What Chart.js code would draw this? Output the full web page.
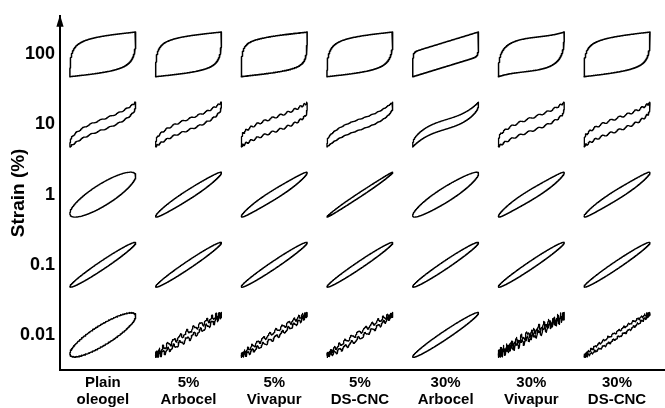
<!DOCTYPE html>
<html>
<head>
<meta charset="utf-8">
<script src="https://cdn.jsdelivr.net/npm/chart.js@4/dist/chart.umd.min.js"></script>
<style>
  html, body { margin: 0; padding: 0; background: #fff; }
  canvas { display: block; }
</style>
</head>
<body>
<canvas id="lissajous" width="665" height="408"></canvas>
<script>
// Samples (columns) and strain amplitudes (rows, bottom to top)
const samples = [
  ["Plain", "oleogel"], ["5%", "Arbocel"], ["5%", "Vivapur"], ["5%", "DS-CNC"],
  ["30%", "Arbocel"], ["30%", "Vivapur"], ["30%", "DS-CNC"]
];
const strainLevels = ["0.01", "0.1", "1", "10", "100"];

// Loop descriptors, one row per strain level (0.01 -> 100), one entry per sample.
// fast / slow yielding share of the stress response
const yieldFast = [
  [0, 0, 0, 0, 0, 0, 0],
  [0, 0, 0, 0, 0, 0, 0],
  [0, 0, 0, 0, 0, 0, 0],
  [0.16, 0.16, 0.25, 0.18, 0.12, 0.22, 0.20],
  [0.46, 0.50, 0.55, 0.46, 0.55, 0.40, 0.47]
];
// how sharply the fast yielding sets in after strain reversal
const yieldRate = [
  [25, 25, 25, 25, 25, 25, 25],
  [25, 25, 25, 25, 25, 25, 25],
  [25, 25, 25, 25, 25, 25, 25],
  [20, 20, 25, 20, 20, 25, 25],
  [12, 13, 16, 12, 28, 11, 13]
];
const yieldSlow = [
  [0, 0, 0, 0, 0, 0, 0],
  [0, 0, 0, 0, 0, 0, 0],
  [0, 0, 0, 0, 0, 0, 0],
  [0.10, 0.12, 0.10, 0.08, 0.12, 0.10, 0.12],
  [0.46, 0.42, 0.35, 0.46, 0.00, 0.45, 0.43]
];
// out-of-phase (viscous) opening of the loop
const loopWidth = [
  [0.60, 0.17, 0.15, 0.15, 0.22, 0.13, 0.15],
  [0.22, 0.20, 0.20, 0.19, 0.21, 0.20, 0.20],
  [0.65, 0.24, 0.24, 0.11, 0.40, 0.26, 0.24],
  [0, 0, 0, 0, 0, 0, 0],
  [0, 0, 0, 0, 0, 0, 0]
];
// strain stiffening (S-shaped loops)
const stiffening = [
  [0, 0, 0, 0, 0, 0, 0],
  [0, 0, 0, 0, 0, 0, 0],
  [0, 0.05, 0.08, 0.03, 0.05, 0.10, 0.08],
  [0.23, 0.20, 0.15, 0.25, 0.35, 0.18, 0.18],
  [0, 0, 0, 0, 0, 0.12, 0]
];
// signal ripple on the stress trace
const rippleAmp = [
  [0.015, 0.11, 0.09, 0.09, 0, 0.13, 0.045],
  [0, 0, 0, 0, 0, 0, 0],
  [0, 0, 0, 0, 0, 0, 0],
  [0.025, 0.035, 0.05, 0.012, 0, 0.04, 0.05],
  [0, 0, 0.006, 0, 0, 0, 0]
];
const rippleCycles = [
  [80, 30, 32, 30, 0, 36, 40],
  [0, 0, 0, 0, 0, 0, 0],
  [0, 0, 0, 0, 0, 0, 0],
  [22, 24, 26, 30, 0, 22, 24],
  [0, 0, 90, 0, 0, 0, 0]
];
const noiseAmp = [
  [0.01, 0.05, 0.03, 0.03, 0, 0.09, 0.025],
  [0, 0, 0, 0, 0, 0, 0],
  [0, 0, 0, 0, 0, 0, 0],
  [0, 0, 0, 0, 0, 0, 0],
  [0, 0, 0, 0, 0, 0, 0]
];
const noiseCycles = [
  [130, 67, 71, 65, 0, 81, 89],
  [0, 0, 0, 0, 0, 0, 0],
  [0, 0, 0, 0, 0, 0, 0],
  [0, 0, 0, 0, 0, 0, 0],
  [0, 0, 0, 0, 0, 0, 0]
];

const SLOW_RATE = 4, STEPS = 360;
const HALF_W = 0.385, HALF_H = 0.32;   // loop half-size in axis units

function relax(u, k) {
  return (1 - Math.exp(-k * u)) / (1 - Math.exp(-k));
}

// One closed stress-strain loop: upper branch, then its point reflection
function loopPoints(r, c) {
  const w1 = yieldFast[r][c], w2 = yieldSlow[r][c], lin = 1 - w1 - w2;
  const v = loopWidth[r][c], s = stiffening[r][c], k1 = yieldRate[r][c];
  const upper = [];
  for (let i = 0; i <= STEPS; i++) {
    const u = i / STEPS;
    const x = -Math.cos(Math.PI * u);
    const y = w1 * (2 * relax(u, k1) - 1)
            + w2 * (2 * relax(u, SLOW_RATE) - 1)
            + lin * x
            + v * Math.sin(Math.PI * u)
            + s * (x * x * x - x)
            + rippleAmp[r][c] * Math.sin(rippleCycles[r][c] * Math.PI * u)
            + noiseAmp[r][c] * Math.sin(noiseCycles[r][c] * Math.PI * u);
    upper.push([x, y]);
  }
  const pts = upper.concat(upper.map(([x, y]) => [-x, -y]));
  const m = Math.max(...pts.map(p => Math.abs(p[1])));
  return pts.map(([x, y]) => ({ x: c + x * HALF_W, y: r + (y / m) * HALF_H }));
}

const datasets = [];
strainLevels.forEach((_, r) => {
  samples.forEach((__, c) => {
    datasets.push({
      data: loopPoints(r, c),
      showLine: true,
      pointRadius: 0,
      borderColor: '#000',
      borderWidth: r === 4 ? 1.5 : 1.3,
      borderJoinStyle: 'round',
      borderCapStyle: 'round',
      tension: 0,
      fill: false,
      clip: false
    });
  });
});

// Arrow head on top of the strain axis
const axisArrow = {
  id: 'axisArrow',
  afterDraw(chart) {
    const { ctx, chartArea: { left, top } } = chart;
    ctx.save();
    ctx.fillStyle = '#000';
    ctx.beginPath();
    ctx.moveTo(left, top - 1);
    ctx.lineTo(left - 3.6, top + 11);
    ctx.lineTo(left + 3.6, top + 11);
    ctx.closePath();
    ctx.fill();
    ctx.restore();
  }
};

const FONT = "Arial, 'Liberation Sans', Helvetica, sans-serif";

new Chart(document.getElementById('lissajous'), {
  type: 'scatter',
  data: { datasets },
  options: {
    responsive: false,
    animation: false,
    devicePixelRatio: 1,
    layout: { padding: { top: 13, right: 0, bottom: 0, left: 0 } },
    plugins: { legend: { display: false }, tooltip: { enabled: false } },
    scales: {
      x: {
        type: 'linear',
        min: -0.5,
        max: 6.56,
        afterBuildTicks: scale => { scale.ticks = samples.map((_, i) => ({ value: i })); },
        afterFit: scale => { scale.height = 38; },
        grid: { display: false, drawTicks: false },
        border: { display: true, color: '#000', width: 2 },
        ticks: {
          autoSkip: false,
          maxRotation: 0,
          padding: 4,
          color: '#000',
          font: { family: FONT, size: 15, weight: 'bold', lineHeight: 1.13 },
          callback: value => samples[value]
        }
      },
      y: {
        type: 'linear',
        min: -0.5,
        max: 4.55,
        afterBuildTicks: scale => { scale.ticks = strainLevels.map((_, i) => ({ value: i })); },
        afterFit: scale => { scale.width = 60; },
        grid: { display: false, drawTicks: false },
        border: { display: true, color: '#000', width: 2 },
        ticks: {
          autoSkip: false,
          padding: 5,
          color: '#000',
          font: { family: FONT, size: 18, weight: 'bold' },
          callback: value => strainLevels[value]
        },
        title: {
          display: true,
          text: 'Strain (%)',
          color: '#000',
          padding: { top: 7, bottom: 0 },
          font: { family: FONT, size: 19, weight: 'bold', lineHeight: 1.2 }
        }
      }
    }
  },
  plugins: [axisArrow]
});
</script>
</body>
</html>
